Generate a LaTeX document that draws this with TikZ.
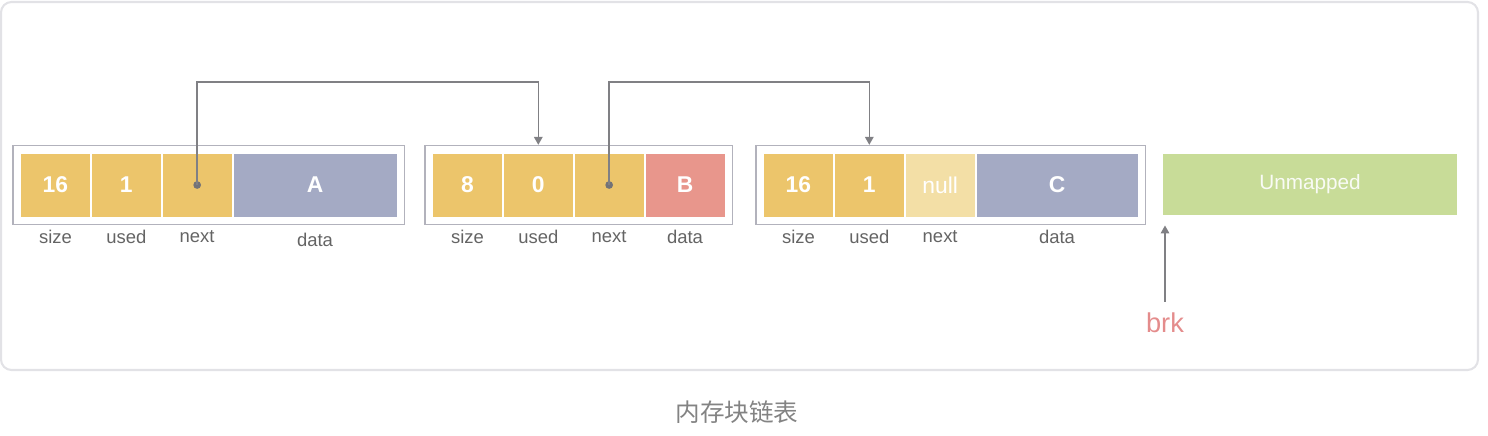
\documentclass[tikz,border=0pt]{standalone}
\usepackage{fontspec}
\setmainfont{Liberation Sans}
\newfontfamily\cjk{Noto Sans CJK SC}
\usetikzlibrary{arrows.meta,positioning,fit}
\definecolor{Cell}{RGB}{236,197,107}
\definecolor{Null}{RGB}{243,223,166}
\definecolor{Data}{RGB}{164,170,196}
\definecolor{Salmon}{RGB}{232,150,140}
\definecolor{Green}{RGB}{200,220,152}
\definecolor{Frame}{RGB}{178,178,188}
\definecolor{Link}{RGB}{128,128,132}
\definecolor{Label}{RGB}{100,100,100}
\definecolor{Brk}{RGB}{228,140,140}
\definecolor{Card}{RGB}{226,226,230}

\begin{document}
\begin{tikzpicture}[x=0.02cm,y=-0.02cm,node distance=0pt,
  c/.style={fill=Cell,draw=white,line width=0.5pt,minimum width=1.4cm,minimum height=1.28cm,inner sep=0pt,text=white,font=\fontsize{13}{15}\selectfont\bfseries},
  l/.style={inner sep=0pt,text=Label,font=\fontsize{10.5}{12}\selectfont},
  f/.style={draw=Frame,line width=0.8pt,inner sep=0.14cm},
  link/.style={draw=Link,line width=0.9pt,-{Triangle[length=1.6mm,width=1.7mm]}}]
\useasboundingbox (0,0) rectangle (1488,436);
\draw[Card,line width=1.2pt,rounded corners=6pt] (1,2) rectangle (1478,370);
% first block
\node[c,anchor=west] (s1) at (20,185) {16};
\node[c,right=of s1] (u1) {1};
\node[c,right=of u1] (n1) {};
\node[c,right=of n1,fill=Data,minimum width=3.28cm] (d1) {A};
\node[f,fit=(s1)(d1)] (b1) {};
% second block
\node[c,anchor=west] (s2) at (432,185) {8};
\node[c,right=of s2] (u2) {0};
\node[c,right=of u2] (n2) {};
\node[c,right=of n2,fill=Salmon,minimum width=1.6cm] (d2) {B};
\node[f,fit=(s2)(d2)] (b2) {};
% third block
\node[c,anchor=west] (s3) at (763,185) {16};
\node[c,right=of s3] (u3) {1};
\node[c,right=of u3,fill=Null,font=\fontsize{13}{15}\selectfont] (n3) {null};
\node[c,right=of n3,fill=Data,minimum width=3.24cm] (d3) {C};
\node[f,fit=(s3)(d3)] (b3) {};
\node[c,fill=Green,minimum width=5.9cm,minimum height=1.24cm,font=\fontsize{11.8}{14}\selectfont,text=white!90!Green] (um) at (1310,184) {Unmapped};
% field names
\node[l,below=0.25cm of s1] (ls1) {size}; \node[l,below=0.25cm of u1] (lu1) {used};
\node[l,below=0.25cm of n1] (ln1) {next}; \node[l,below=0.3cm of d1] (ld1) {data};
\node[l,below=0.25cm of s2] (ls2) {size}; \node[l,below=0.25cm of u2] (lu2) {used};
\node[l,below=0.25cm of n2] (ln2) {next}; \node[l,below=0.25cm of d2] (ld2) {data};
\node[l,below=0.25cm of s3] (ls3) {size}; \node[l,below=0.25cm of u3] (lu3) {used};
\node[l,below=0.25cm of n3] (ln3) {next}; \node[l,below=0.25cm of d3] (ld3) {data};
% next pointers
\coordinate (top) at (0,82);
\fill[Link!90!black] (n1.center) circle (2.2pt);
\fill[Link!90!black] (n2.center) circle (2.2pt);
\draw[link] (n1.center) -- (n1.center |- top) -| (u2.center |- b2.north);
\draw[link] (n2.center) -- (n2.center |- top) -| (u3.center |- b3.north);
% break
\node[text=Brk,font=\fontsize{15.5}{18}\selectfont] (brk) at (1165,323) {brk};
\draw[link,shorten <=0.1cm,shorten >=0.2cm] (brk.north) -- (brk.north |- um.south);
\node[text=Label!80,font=\cjk\fontsize{14}{16}\selectfont] (cap) at (737,412) {内存块链表};
\end{tikzpicture}
\end{document}
